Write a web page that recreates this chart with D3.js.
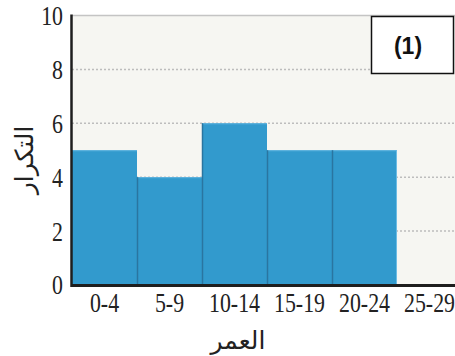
<!DOCTYPE html>
<html><head><meta charset="utf-8">
<script src="https://cdn.jsdelivr.net/npm/d3@7"></script>
<style>body{margin:0;background:#fff}svg{display:block}
.tk{font-family:"Liberation Serif","DejaVu Serif",serif;font-size:28px;fill:#222}
</style>
</head><body>
<svg id="c" width="455" height="356"></svg>
<script>
const categories = ["0-4","5-9","10-14","15-19","20-24","25-29"];
const values = [5,4,6,5,5,0];
const yTicks = [0,2,4,6,8,10];
const yLabel = "التكرار";
const xLabel = "العمر";
const badge = "(1)";

const svg = d3.select("#c");
const L = 72, R = 462, T = 15.5, B = 285;
const x = d3.scaleBand().domain(categories).range([L, R]).padding(0);
const y = d3.scaleLinear().domain([0, 10]).range([B, T]);

svg.append("rect").attr("x", L).attr("y", T).attr("width", 455 - L).attr("height", B - T).attr("fill", "#f6f6f2");
svg.append("line").attr("x1", L).attr("x2", 455).attr("y1", y(10)).attr("y2", y(10)).attr("stroke", "#c4c4c4").attr("stroke-width", 1.5);
svg.append("g").selectAll("line").data(yTicks.filter(t => t > 0 && t < 10)).join("line")
  .attr("x1", L).attr("x2", 455).attr("y1", d => y(d)).attr("y2", d => y(d))
  .attr("stroke", "#bdbdbd").attr("stroke-width", 1.5).attr("stroke-dasharray", "2,2");

const bars = svg.append("g");
bars.selectAll("rect").data(values).join("rect")
  .attr("x", (d, i) => x(categories[i])).attr("width", x.bandwidth())
  .attr("y", d => y(d)).attr("height", d => B - y(d))
  .attr("fill", "#329acd").attr("display", d => d > 0 ? null : "none");
bars.selectAll("line.top").data(values).join("line").attr("class", "top")
  .attr("x1", (d, i) => x(categories[i])).attr("x2", (d, i) => x(categories[i]) + x.bandwidth())
  .attr("y1", d => y(d) + 0.5).attr("y2", d => y(d) + 0.5)
  .attr("stroke", "#5db3df").attr("stroke-width", 1).attr("display", d => d > 0 ? null : "none");
bars.selectAll("line.div").data(values).join("line").attr("class", "div")
  .attr("x1", (d, i) => x(categories[i]) + 0.5).attr("x2", (d, i) => x(categories[i]) + 0.5)
  .attr("y1", d => y(d)).attr("y2", B)
  .attr("stroke", "#2a75a0").attr("stroke-width", 1.5).attr("display", (d, i) => d > 0 && i > 0 ? null : "none");
const lastIdx = values.reduce((a, v, i) => v > 0 ? i : a, 0);
bars.append("line")
  .attr("x1", x(categories[lastIdx]) + x.bandwidth() - 0.5).attr("x2", x(categories[lastIdx]) + x.bandwidth() - 0.5)
  .attr("y1", y(values[lastIdx])).attr("y2", B).attr("stroke", "#6cbce4").attr("stroke-width", 1);

const ya = svg.append("g").attr("transform", `translate(${L},0)`)
  .call(d3.axisLeft(y).tickValues(yTicks).tickFormat(d3.format("d")).tickSize(0).tickPadding(0));
ya.attr("font-family", null).attr("font-size", null);
ya.select(".domain").remove();
ya.selectAll("text").attr("class", "tk").attr("x", 0).attr("dy", "0.32em")
  .attr("transform", "translate(-9,0) scale(0.78,1)");

const xa = svg.append("g").attr("transform", `translate(0,${B})`)
  .call(d3.axisBottom(x).tickSize(0).tickPadding(0));
xa.attr("font-family", null).attr("font-size", null);
xa.select(".domain").remove();
xa.selectAll("text").attr("class", "tk").attr("x", 0).attr("y", 27.5).attr("dy", 0)
  .attr("transform", "scale(0.78,1)");

svg.append("line").attr("x1", L - 1).attr("x2", 455).attr("y1", B + 0.5).attr("y2", B + 0.5).attr("stroke", "#1e1e1e").attr("stroke-width", 3);
svg.append("line").attr("x1", L - 0.5).attr("x2", L - 0.5).attr("y1", T - 1).attr("y2", B + 2).attr("stroke", "#1e1e1e").attr("stroke-width", 2.5);

const arab = "'DejaVu Sans','Noto Sans',sans-serif";
svg.append("text").attr("transform", `translate(33,160) rotate(-90)`).attr("text-anchor", "middle")
  .style("font-family", arab).style("font-size", "25px").attr("fill", "#222").text(yLabel);
svg.append("text").attr("x", 238).attr("y", 349).attr("text-anchor", "middle")
  .style("font-family", arab).style("font-size", "25px").attr("fill", "#222").text(xLabel);

svg.append("rect").attr("x", 371.5).attr("y", 16.5).attr("width", 82).attr("height", 57)
  .attr("fill", "#fff").attr("stroke", "#111").attr("stroke-width", 1.5);
svg.append("text").attr("x", 408).attr("y", 54).attr("text-anchor", "middle")
  .style("font-family", "'Liberation Sans',Arial,sans-serif").style("font-weight", "bold")
  .style("font-size", "23px").attr("fill", "#111").text(badge);
</script>
</body></html>
